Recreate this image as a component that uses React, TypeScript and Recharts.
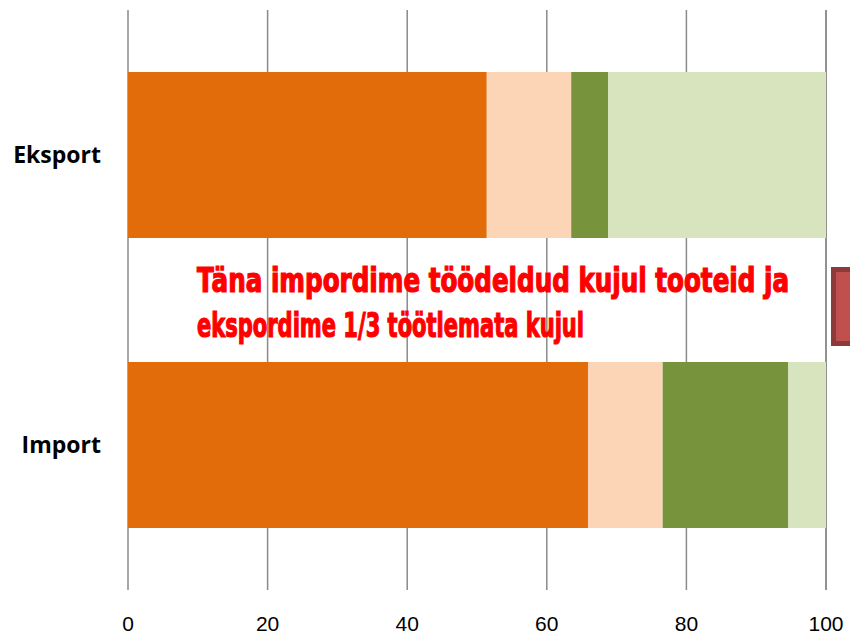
import React from 'react';
import { BarChart, Bar, XAxis, YAxis, CartesianGrid } from 'recharts';

const categories = ['Eksport', 'Import'];
const series1 = [51.4, 65.9];
const series2 = [12.1, 10.7];
const series3 = [5.3, 18.0];
const series4 = [31.2, 5.4];
const xTicks = [0, 20, 40, 60, 80, 100];
const seriesColors = ['#E36C0A', '#FBD5B5', '#77933C', '#D7E4BD'];
const noteLine1 = 'Täna impordime töödeldud kujul tooteid ja';
const noteLine2 = 'ekspordime 1/3 töötlemata kujul';

const data = categories.map((c, i) => ({
  name: c,
  s1: series1[i],
  s2: series2[i],
  s3: series3[i],
  s4: series4[i],
}));

export default function App() {
  return (
    <div style={{ position: 'relative', width: 850, height: 635, background: '#fff' }}>
      <style>{`body{margin:0;}`}</style>
      <BarChart
        width={850}
        height={635}
        data={data}
        layout="vertical"
        margin={{ top: 10, right: 24, bottom: 0, left: 0 }}
        barCategoryGap={62}
      >
        <CartesianGrid horizontal={false} vertical={true} stroke="#8a8a8a" strokeWidth={1.5} />
        <XAxis
          type="number"
          domain={[0, 100]}
          ticks={xTicks}
          axisLine={false}
          tickLine={false}
          height={45}
          tickMargin={20}
          tick={{ fontSize: 21, fill: '#000', fontFamily: 'Liberation Sans' }}
        />
        <YAxis
          type="category"
          dataKey="name"
          width={128}
          axisLine={false}
          tickLine={false}
          tickMargin={21}
          tick={{ fontSize: 23, fill: '#000', fontWeight: 'bold', fontFamily: 'Open Sans' }}
        />
        <Bar dataKey="s1" stackId="a" fill={seriesColors[0]} isAnimationActive={false} />
        <Bar dataKey="s2" stackId="a" fill={seriesColors[1]} isAnimationActive={false} />
        <Bar dataKey="s3" stackId="a" fill={seriesColors[2]} isAnimationActive={false} />
        <Bar dataKey="s4" stackId="a" fill={seriesColors[3]} isAnimationActive={false} />
      </BarChart>
      <svg
        width={850}
        height={635}
        style={{ position: 'absolute', left: 0, top: 0, pointerEvents: 'none' }}
      >
        <text
          x={197}
          y={292}
          fill="#FF0000"
          stroke="#FF0000"
          strokeWidth={1.2}
          fontSize={33}
          fontWeight="bold"
          fontFamily="DejaVu Sans Condensed"
          textLength={592}
          lengthAdjust="spacingAndGlyphs"
        >
          {noteLine1}
        </text>
        <text
          x={197}
          y={337}
          fill="#FF0000"
          stroke="#FF0000"
          strokeWidth={1.2}
          fontSize={33}
          fontWeight="bold"
          fontFamily="DejaVu Sans Condensed"
          textLength={387}
          lengthAdjust="spacingAndGlyphs"
        >
          {noteLine2}
        </text>
        <rect x={833.5} y={269.5} width={40} height={74} fill="#C0504D" stroke="#8C3A3A" strokeWidth={5} />
      </svg>
    </div>
  );
}
